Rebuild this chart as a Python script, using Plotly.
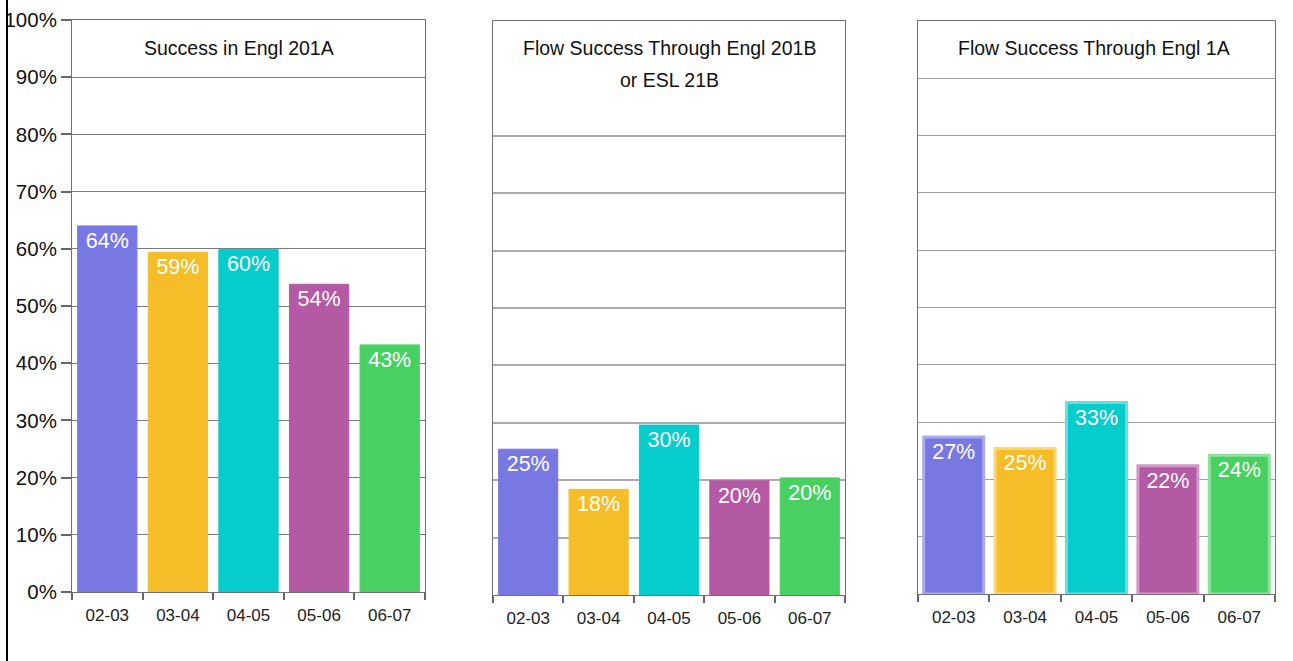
import plotly.graph_objects as go

W, H = 1293, 661

categories = ["02-03", "03-04", "04-05", "05-06", "06-07"]
engl201a = [64.0, 59.4, 59.9, 53.8, 43.2]
flow201b = [25.4, 18.4, 29.6, 19.9, 20.4]
flow1a = [27.4, 25.4, 33.4, 22.4, 24.2]
titles = [["Success in Engl 201A"],
          ["Flow Success Through Engl 201B", "or ESL 21B"],
          ["Flow Success Through Engl 1A"]]
y_ticks = [0, 10, 20, 30, 40, 50, 60, 70, 80, 90, 100]

bar_colors = ["#7878E3", "#F5BD28", "#07CCCC", "#B45AA5", "#49D062"]
outline_light = ["#A9A9F0", "#F9D677", "#66DFDF", "#D198C8", "#8FE39E"]

FONT = "Liberation Sans, Arial, sans-serif"

def px_x(p):
    return p / W

def px_y(p):
    return 1 - p / H

panels = [
    dict(x=(72, 425), y=(20, 592), data=engl201a, title_x=239, grid="#7a7a7a", gw=1),
    dict(x=(493, 845), y=(21, 595), data=flow201b, title_x=669, grid="#ababab", gw=1.5),
    dict(x=(918, 1275), y=(21, 594), data=flow1a, title_x=1094, grid="#a0a0a0", gw=1.2),
]

fig = go.Figure()
layout = dict(
    width=W, height=H,
    margin=dict(l=0, r=0, t=0, b=0, pad=0),
    paper_bgcolor="white", plot_bgcolor="white",
    showlegend=False, bargap=0.16,
    font=dict(family=FONT, color="#111"),
    annotations=[], shapes=[],
)

for i, p in enumerate(panels):
    n = "" if i == 0 else str(i + 1)
    vals = p["data"]
    if i == 2:
        line = dict(color=outline_light, width=3)
    else:
        line = dict(color=bar_colors, width=1)
    fig.add_trace(go.Bar(
        x=categories, y=vals,
        xaxis="x" + n, yaxis="y" + n,
        marker=dict(color=bar_colors, line=line),
        text=[f"{round(v)}%" for v in vals],
        textposition="inside", insidetextanchor="end", textangle=0,
        textfont=dict(color="white", size=21.5, family=FONT),
        hoverinfo="x+y",
    ))
    layout["xaxis" + n] = dict(
        type="category", automargin=False,
        domain=[px_x(p["x"][0]), px_x(p["x"][1])],
        anchor="y" + n,
        range=[-0.5, 4.5],
        tickson="boundaries", ticks="outside", ticklen=7, tickwidth=2,
        tickcolor="#666666", ticklabelstandoff=8,
        showline=True, linecolor="#727272", linewidth=1, mirror=True,
        showgrid=False, tickfont=dict(size=17, color="#222"),
        fixedrange=True,
    )
    ytv = y_ticks if i != 1 else [v for v in y_ticks if v != 90]
    yax = dict(
        automargin=False,
        domain=[px_y(p["y"][1]), px_y(p["y"][0])],
        anchor="x" + n,
        range=[0, 100],
        tickvals=ytv,
        ticktext=[f"{v}%" for v in ytv],
        showgrid=True, gridcolor=p["grid"], gridwidth=p["gw"],
        showline=True, linecolor="#727272", linewidth=1, mirror=True,
        zeroline=False, fixedrange=True,
    )
    if i == 0:
        yax.update(ticks="outside", ticklen=10, tickwidth=2, tickcolor="#666666",
                   showticklabels=True, tickfont=dict(size=20.5, color="#111"))
    else:
        yax.update(ticks="", showticklabels=False)
    layout["yaxis" + n] = yax
    for k, t in enumerate(titles[i]):
        layout["annotations"].append(dict(
            text=t, xref="paper", yref="paper",
            x=px_x(p["title_x"]), y=px_y(48 + 32 * k),
            xanchor="center", yanchor="middle", showarrow=False,
            font=dict(size=19.5, color="#111", family=FONT),
        ))

layout["shapes"].append(dict(
    type="line", xref="paper", yref="paper",
    x0=px_x(7), x1=px_x(7), y0=0, y1=1,
    line=dict(color="black", width=2),
))

fig.update_layout(**layout)
fig.write_html("out.html", config={"displayModeBar": False},
               post_script="document.body.style.margin='0';")
